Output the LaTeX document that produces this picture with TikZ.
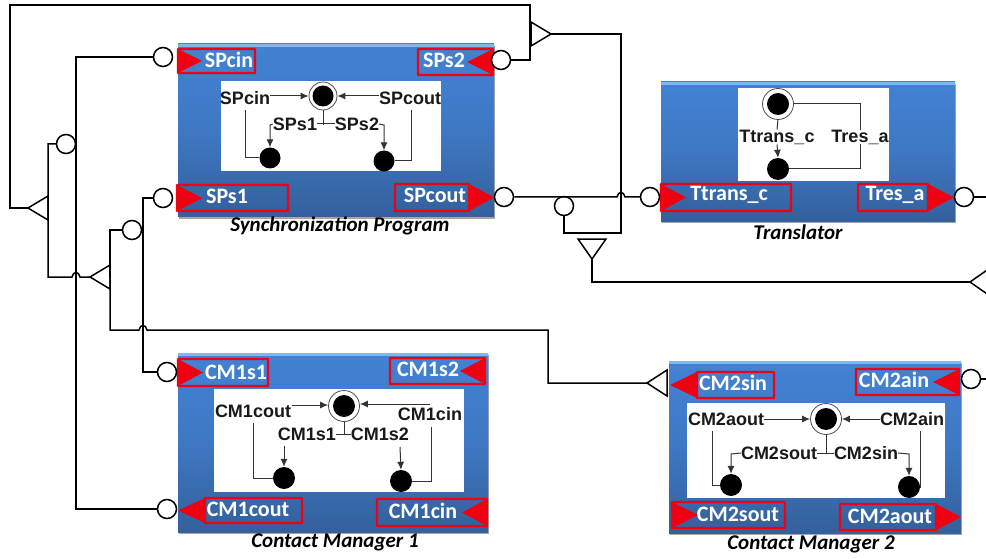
\documentclass[tikz,border=0pt]{standalone}
\usepackage{fontspec}
\setmainfont{Liberation Sans}
\newfontfamily\capfont{Carlito}
\usetikzlibrary{arrows.meta,shadows}
\definecolor{boxtop}{HTML}{4282D4}
\definecolor{boxbot}{HTML}{34609C}
\definecolor{boxrim}{HTML}{7FB6F0}
\definecolor{redmark}{HTML}{F00010}
\tikzset{
 x=1pt,y=-1pt,
 bluebox/.style={rectangle,inner sep=0,top color=boxtop,bottom color=boxbot,middle color=boxtop!70!boxbot,
   drop shadow={shadow xshift=1pt,shadow yshift=-2pt,opacity=.35,fill=black}},
 panel/.style={rectangle,inner sep=0,fill=white},
 port/.style={circle,draw=black,line width=1.5pt,fill=white,minimum size=19pt,inner sep=0},
 wire/.style={draw=black,line width=1.5pt},
 thin wire/.style={draw=black!80,line width=1pt},
 flow/.style={thin wire,-{Latex[length=8pt,width=7pt]}},
 redbox/.style={rectangle,draw=redmark,line width=2.4pt,inner sep=0,rounded corners=.6pt},
 redtip/.style={fill=redmark,draw=none},
 porttext/.style={text=white,inner sep=0,font=\capfont\bfseries\fontsize{22}{22}\selectfont},
 inner/.style={inner sep=0,text=black!90,font=\bfseries\fontsize{18}{18}\selectfont},
 caption/.style={inner sep=0,font=\capfont\bfseries\itshape\fontsize{21}{21}\selectfont},
 dot/.style={circle,fill=black,inner sep=0,minimum size=#1},
 ring/.style={circle,draw=black!70,fill=white,line width=.8pt,inner sep=0,minimum size=#1},
}
% name, tip x, tip y, rotation, half width
\newcommand{\tri}[5]{%
 \begin{scope}[shift={(#2,#3)},rotate=#4]
  \coordinate (#1-tip) at (0,0);
  \coordinate (#1-base) at (20,0);
  \draw[wire,fill=white,line join=miter] (0,0) -- (20,#5) -- (20,-#5) -- cycle;
 \end{scope}}
% name, x1,y1,x2,y2
\newcommand{\area}[6]{%
 \path (#3,#4) coordinate (#1-a) (#5,#6) coordinate (#1-b);
 \node[#2,minimum width={#5pt-#3pt},minimum height={#6pt-#4pt}] (#1) at ({(#3+#5)/2},{(#4+#6)/2}) {};}
% name,x1,y1,x2,y2,text,tx,ty,basex,tipx
\newcommand{\redlabel}[9]{%
 \area{#1}{redbox}{#2}{#3}{#4}{#5}
 \fill[redtip] (#8,#3) -- (#9,{(#3+#5)/2}) -- (#8,#5) -- cycle;
 \node[porttext] (#1t) at (#7) {#6};}

\begin{document}
\begin{tikzpicture}
\useasboundingbox (0,0) rectangle (986,559);

% ---------- component boxes ----------
\area{SP}{bluebox}{178}{44}{494}{217}
\area{TR}{bluebox}{661}{82}{955}{221}
\area{CA}{bluebox}{178}{353}{488}{532}
\area{CB}{bluebox}{669}{361}{961}{533}
\fill[boxrim] (178,44) rectangle (494,47);
\fill[boxrim] (661,82) rectangle (955,85);
\fill[boxrim] (178,353) rectangle (488,356);
\fill[boxrim] (669,361) rectangle (961,364);
\area{SPw}{panel}{221}{81}{441}{171}
\area{TRw}{panel}{738}{88}{889}{181}
\area{CAw}{panel}{214}{389}{464}{492}
\area{CBw}{panel}{687}{403}{945}{498}

% ---------- red port labels ----------
\redlabel{lSPcin}{178}{49}{255}{73}{SPcin}{229,60}{178}{202}
\redlabel{lSPs1}{177}{185}{288}{211}{SPs1}{227,196}{177}{202}
\redlabel{lSPs2}{418}{49}{493}{75}{SPs2}{444,60}{493}{467}
\redlabel{lSPcout}{395}{184}{469}{211}{SPcout}{435,195}{469}{494}
\redlabel{lTtr}{661}{184}{791}{211}{Ttrans\_c}{729,195}{661}{686}
\redlabel{lTre}{858}{184}{928}{211}{Tres\_a}{895,195}{928}{954}
\redlabel{lC1s1}{178}{359}{268}{386}{CM1s1}{236,372}{178}{203}
\redlabel{lC1s2}{390}{358}{485}{384}{CM1s2}{428,369}{485}{460}
\redlabel{lC1co}{205}{498}{302}{523}{CM1cout}{248,509}{205}{178}
\redlabel{lC1ci}{377}{499}{487}{526}{CM1cin}{423,511}{487}{462}
\redlabel{lC2si}{697}{372}{774}{398}{CM2sin}{733,383}{697}{670}
\redlabel{lC2ai}{856}{369}{959}{395}{CM2ain}{894,380}{959}{933}
\redlabel{lC2so}{672}{502}{785}{528}{CM2sout}{738,514}{672}{698}
\redlabel{lC2ao}{840}{504}{936}{530}{CM2aout}{890,516}{936}{961}

% ---------- captions ----------
\node[caption] (capSP) at (340,226) {Synchronization Program};
\node[caption] (capTR) at (798,232) {Translator};
\node[caption] (capCA) at (335,542) {Contact Manager 1};
\node[caption] (capCB) at (811,544) {Contact Manager 2};

% ---------- ports ----------
\node[port] (pSPcin) at (163,57) {};
\node[port] (pSPs1) at (163,198) {};
\node[port] (pSPs2) at (501,60) {};
\node[port] (pSPcout) at (504,197) {};
\node[port] (pTtr) at (650,197) {};
\node[port] (pTre) at (964,197) {};
\node[port] (pC1s1) at (167,372) {};
\node[port] (pC1co) at (167,509) {};
\node[port] (pC2ai) at (971,379) {};
\node[port] (pA) at (66,144) {};
\node[port] (pB) at (132,230) {};
\node[port] (pE) at (564,206) {};
\coordinate (edgeR1) at (986,197);
\coordinate (edgeR2) at (986,379);

% ---------- triangles ----------
\tri{tA}{28}{208}{0}{12}
\tri{tB}{90}{277}{0}{12}
\tri{tC}{647}{383}{0}{13}
\tri{tD}{551}{34}{180}{12}
\tri{tE}{592}{259}{90}{14}
\tri{tF}{970}{282}{0}{14}

% ---------- connectors ----------
\draw[wire] (pSPcin.west) -- (76,57) -- (pC1co.west -| 76,0) -- (pC1co.west);
\draw[wire] (pA.west) -- (48,144) -- (48,277) -- (72,277) .. controls (73,271) and (79,271) .. (80,277) -- (tB-tip);
\draw[wire] (tA-tip) -- (10,208) -- (10,5) -- (530,5) -- (530,60) -- (pSPs2.east);
\draw[wire] (tB-base) -- (110,230) -- (pB.west);
\draw[wire] (tB-base) -- (110,330) -- (139,330) .. controls (140,324) and (146,324) .. (147,330) -- (548,330) -- (548,383) -- (tC-tip);
\draw[wire] (pSPs1.west) -- (143,198) -- (143,372) -- (pC1s1.west);
\draw[wire] (tD-tip) -- (621,34) -- (621,233) -- (564,233) -- (pE.south);
\draw[wire] (pSPcout.east) -- (617,197) .. controls (618,191) and (624,191) .. (625,197) -- (pTtr.west);
\draw[wire] (tE-tip) -- (592,282) -- (tF-tip);
\draw[wire] (pTre.east) -- (edgeR1);
\draw[wire] (pC2ai.east) -- (edgeR2);

% ---------- Synchronization Program inner ----------
\node[ring=28pt] (sR) at (323,96) {};
\node[dot=21pt] (sD) at (323,96) {};
\node[dot=21pt] (sL) at (270,158) {};
\node[dot=21pt] (sQ) at (384,161) {};
\node[inner] (sT1) at (245,98) {SPcin};
\node[inner] (sT2) at (410,98) {SPcout};
\node[inner] (sT3) at (295,124) {SPs1};
\node[inner] (sT4) at (357,124) {SPs2};
\draw[flow] (sT1.east |- sR) -- (sR.west);
\draw[flow] (sT2.west |- sR) -- (sR.east);
\draw[thin wire] (sR.south) -- (323,125) (sT3.east) -- (sT4.west);
\draw[flow] (sT3.west) -- (270,125) -- (sL.north);
\draw[flow] (sT4.east) -- (384,125) -- (sQ.north);
\draw[thin wire] (245,110) -- (245,158) -- (sL.west);
\draw[thin wire] (411,110) -- (411,161) -- (sQ.east);

% ---------- Translator inner ----------
\node[ring=31pt] (tR) at (778,104) {};
\node[dot=22pt] (tD) at (778,104) {};
\node[dot=22pt] (tL) at (778,169) {};
\node[inner] (tT1) at (777,137) {Ttrans\_c};
\node[inner] (tT2) at (860,137) {Tres\_a};
\draw[thin wire] (tR.south) -- (tT1.north);
\draw[flow] (tT1.south) -- (tL.north);
\draw[thin wire] (tR.east) -- (860,104) -- (tT2.north);
\draw[thin wire] (tT2.south) -- (860,169) -- (tL.east);

% ---------- Contact Manager 1 inner ----------
\node[ring=31pt] (aR) at (344,406) {};
\node[dot=22pt] (aD) at (344,406) {};
\node[dot=22pt] (aL) at (284,478) {};
\node[dot=22pt] (aQ) at (401,481) {};
\node[inner] (aT1) at (253,411) {CM1cout};
\node[inner] (aT2) at (430,414) {CM1cin};
\node[inner] (aT3) at (307,434) {CM1s1};
\node[inner] (aT4) at (380,434) {CM1s2};
\draw[flow] (292,405) -- (aR.west |- 0,405);
\draw[flow] (430,404) -- (aR.east |- 0,404);
\draw[thin wire] (aR.south) -- (344,435) (aT3.east) -- (aT4.west);
\draw[flow] (284,446) -- (aL.north);
\draw[flow] (400,447) -- (aQ.north);
\draw[thin wire] (253,423) -- (253,478) -- (aL.west);
\draw[thin wire] (431,427) -- (431,481) -- (aQ.east);

% ---------- Contact Manager 2 inner ----------
\node[ring=31pt] (bR) at (826,419) {};
\node[dot=22pt] (bD) at (826,419) {};
\node[dot=22pt] (bL) at (731,485) {};
\node[dot=22pt] (bQ) at (909,487) {};
\node[inner] (bT1) at (726,419) {CM2aout};
\node[inner] (bT2) at (912,419) {CM2ain};
\node[inner] (bT3) at (779,453) {CM2sout};
\node[inner] (bT4) at (866,453) {CM2sin};
\draw[flow] (bT1.east) -- (bR.west);
\draw[flow] (bT2.west) -- (bR.east);
\draw[thin wire] (bR.south) -- (826,454) (bT3.east) -- (bT4.west);
\draw[flow] (bT3.west) -- (731,454) -- (bL.north);
\draw[flow] (bT4.east) -- (909,454) -- (bQ.north);
\draw[thin wire] (712,431) -- (712,485) -- (bL.west);
\draw[thin wire] (920,431) -- (920,487) -- (bQ.east);
\end{tikzpicture}
\end{document}
